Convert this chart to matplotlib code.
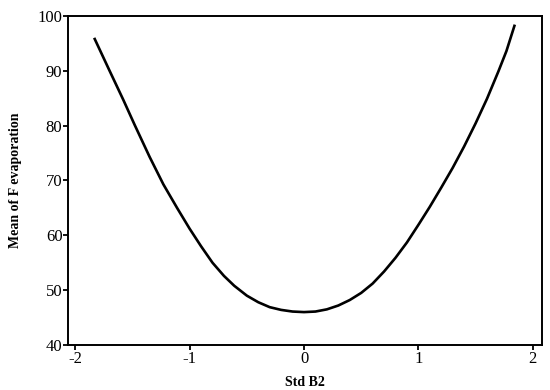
import matplotlib
matplotlib.use("Agg")
import matplotlib.pyplot as plt

# curve
std_b2 = [-1.83, -1.70, -1.58, -1.48, -1.35, -1.23, -1.11, -1.00, -0.90, -0.80,
          -0.70, -0.61, -0.50, -0.40, -0.30, -0.20, -0.10, 0.00, 0.10, 0.20,
          0.30, 0.40, 0.50, 0.60, 0.70, 0.80, 0.90, 1.00, 1.10, 1.20,
          1.30, 1.40, 1.50, 1.60, 1.70, 1.77, 1.84]
mean_f_evap = [95.8, 90.0, 84.7, 80.1, 74.3, 69.3, 65.0, 61.2, 58.0, 55.0,
               52.6, 50.8, 49.0, 47.8, 46.9, 46.4, 46.1, 46.0, 46.1, 46.5,
               47.2, 48.2, 49.5, 51.2, 53.4, 55.9, 58.7, 61.9, 65.2, 68.7,
               72.3, 76.2, 80.4, 84.9, 89.9, 93.6, 98.2]
x_ticks = [-2, -1, 0, 1, 2]
y_ticks = [40, 50, 60, 70, 80, 90, 100]

plt.rcParams['font.family'] = ['Liberation Serif', 'DejaVu Serif']

fig = plt.figure(figsize=(5.5, 3.9), dpi=100)
ax = fig.add_axes([0.1236, 0.1154, 0.8614, 0.8436])
ax.plot(std_b2, mean_f_evap, color='black', lw=1.9, solid_joinstyle='round')

ax.set_xlim(-2.064, 2.079)
ax.set_ylim(40, 100)
ax.set_xticks(x_ticks)
ax.set_xticklabels([str(t) for t in x_ticks])
ax.set_yticks(y_ticks)
ax.tick_params(direction='out', length=3.5, width=1.3, labelsize=12, pad=0.5, colors='black')
for s in ax.spines.values():
    s.set_linewidth(1.4)

ax.set_xlabel('Std B2', fontsize=10, fontweight='bold', labelpad=7)
ax.set_ylabel('Mean of F evaporation', fontsize=10, fontweight='bold', labelpad=11)

fig.savefig('out.png', dpi=100)
